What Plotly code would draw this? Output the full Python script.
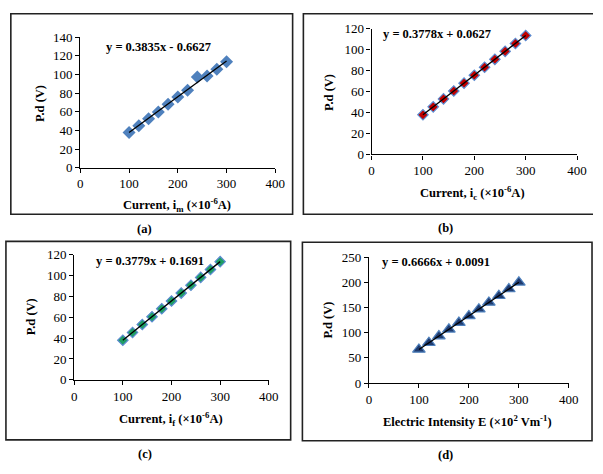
import plotly.graph_objects as go

W, H = 603, 474

# ---- data ----
x_vals = [100, 120, 140, 160, 180, 200, 220, 240, 260, 280, 300]
pd_a = [37.7, 44.9, 52.5, 59.8, 68.1, 75.7, 83.0, 97.1, 98.2, 105.6, 113.4]
pd_b = [37.8, 45.4, 53.0, 60.5, 68.0, 75.6, 83.2, 90.7, 98.3, 105.8, 113.4]
pd_c = [38.0, 45.5, 53.1, 60.6, 68.2, 75.7, 83.3, 90.9, 98.4, 106.0, 113.5]
pd_d = [66.7, 80.0, 93.3, 106.7, 120.0, 133.3, 146.7, 160.0, 173.3, 186.7, 200.0]
slopes = [0.3835, 0.3778, 0.3779, 0.6666]
intercepts = [-0.6627, 0.0627, 0.1691, 0.0091]
eq_labels = ["y = 0.3835x - 0.6627", "y = 0.3778x + 0.0627",
             "y = 0.3779x + 0.1691", "y = 0.6666x + 0.0091"]
x_titles = ["Current, i<sub>m</sub> (×10<sup>-6</sup>A)",
            "Current, i<sub>c</sub> (×10<sup>-6</sup>A)",
            "Current, i<sub>f</sub> (×10<sup>-6</sup>A)",
            "Electric Intensity E (×10<sup>2</sup> Vm<sup>-1</sup>)"]
y_title = "P.d (V)"
captions = ["(a)", "(b)", "(c)", "(d)"]
y_max = [140, 120, 120, 250]
y_dtick = [20, 20, 20, 50]

FONT = "Liberation Serif"

def fx(px):
    return px / W

def fy(py):
    return 1 - py / H

# pixel geometry of each panel (plot area, x0,x1,y_bottom,y_top)
plot_px = [(79, 278.3, 166, 31), (376.7, 586.7, 152.3, 22.3),
           (72.7, 271.7, 385, 256), (374, 578.3, 388.3, 258.3)]
border_px = [(8, 296, 7, 214), (307, 603, 7, 214),
             (3, 294, 242, 447), (306, 602, 243, 448)]
border_right = [True, False, True, True]
eq_px = [(159, 41), (444, 28), (150, 262), (443, 263)]
ytitle_px = [(38, 100), (333, 88), (28, 320), (332, 323)]
xtitle_px = [(178, 204), (480, 192), (172, 425), (475, 428)]
cap_px = [(145, 229), (452, 228), (145, 462), (452, 463)]

marker_styles = [
    dict(symbol="diamond", size=10, color="#4F81BD", line=dict(width=0)),
    dict(symbol="diamond", size=8, color="#C00000", line=dict(width=1.2, color="#5B8BD0")),
    dict(symbol="diamond", size=8, color="#1E9E63", line=dict(width=1.2, color="#5B8BD0")),
    dict(symbol="triangle-up", size=11, color="#1F3A6E", line=dict(width=1.2, color="#4F81BD")),
]
series = [pd_a, pd_b, pd_c, pd_d]

fig = go.Figure()
annotations = []
shapes = []
for i in range(4):
    xa = "x" if i == 0 else f"x{i+1}"
    ya = "y" if i == 0 else f"y{i+1}"
    fig.add_trace(go.Scatter(x=x_vals, y=series[i], mode="markers",
                             marker=marker_styles[i], xaxis=xa, yaxis=ya,
                             showlegend=False))
    tx = [x_vals[0], x_vals[-1]]
    ty = [slopes[i] * v + intercepts[i] for v in tx]
    fig.add_trace(go.Scatter(x=tx, y=ty, mode="lines",
                             line=dict(color="black", width=1.3),
                             xaxis=xa, yaxis=ya, showlegend=False))
    x0, x1, yb, yt = plot_px[i]
    axis_font = dict(family=FONT, size=13, color="black")
    fig.layout["xaxis" if i == 0 else f"xaxis{i+1}"] = dict(
        domain=[fx(x0), fx(x1)], range=[0, 400], dtick=100, tick0=0,
        showgrid=False, zeroline=False, showline=True, linecolor="black",
        linewidth=1.2, ticks="outside", ticklen=4, tickcolor="black",
        tickfont=axis_font, anchor=ya, fixedrange=True)
    fig.layout["yaxis" if i == 0 else f"yaxis{i+1}"] = dict(
        domain=[fy(yb), fy(yt)], range=[0, y_max[i]], dtick=y_dtick[i], tick0=0,
        showgrid=False, zeroline=False, showline=True, linecolor="black",
        linewidth=1.2, ticks="outside", ticklen=4, tickcolor="black",
        tickfont=axis_font, anchor=xa, fixedrange=True)

    bx0, bx1, by0, by1 = border_px[i]
    bline = dict(color="#222222", width=1.6)
    if border_right[i]:
        shapes.append(dict(type="rect", xref="paper", yref="paper",
                           x0=fx(bx0), x1=fx(bx1), y0=fy(by1), y1=fy(by0),
                           line=bline))
    else:
        shapes.append(dict(type="path", xref="paper", yref="paper",
                           path=f"M {fx(bx1)},{fy(by0)} L {fx(bx0)},{fy(by0)} "
                                f"L {fx(bx0)},{fy(by1)} L {fx(bx1)},{fy(by1)}",
                           line=bline))
    ex, ey = eq_px[i]
    annotations.append(dict(x=fx(ex), y=fy(ey), xref="paper", yref="paper",
                            text=f"<b>{eq_labels[i]}</b>", showarrow=False,
                            font=dict(family=FONT, size=12.5, color="black"),
                            xanchor="center", yanchor="middle"))
    tx_, ty_ = ytitle_px[i]
    annotations.append(dict(x=fx(tx_), y=fy(ty_), xref="paper", yref="paper",
                            text=f"<b>{y_title}</b>", showarrow=False, textangle=-90,
                            font=dict(family=FONT, size=12.5, color="black"),
                            xanchor="center", yanchor="middle"))
    xx, xy = xtitle_px[i]
    annotations.append(dict(x=fx(xx), y=fy(xy), xref="paper", yref="paper",
                            text=f"<b>{x_titles[i]}</b>", showarrow=False,
                            font=dict(family=FONT, size=12.5, color="black"),
                            xanchor="center", yanchor="middle"))
    cx, cy = cap_px[i]
    annotations.append(dict(x=fx(cx), y=fy(cy), xref="paper", yref="paper",
                            text=f"<b>{captions[i]}</b>", showarrow=False,
                            font=dict(family=FONT, size=12.5, color="black"),
                            xanchor="center", yanchor="middle"))

fig.update_layout(width=W, height=H, margin=dict(l=0, r=0, t=0, b=0),
                  plot_bgcolor="white", paper_bgcolor="white",
                  annotations=annotations, shapes=shapes,
                  font=dict(family=FONT, color="black"))

fig.write_html("out.html", config={"displayModeBar": False},
               post_script="document.body.style.margin='0';document.body.style.overflow='hidden';")
